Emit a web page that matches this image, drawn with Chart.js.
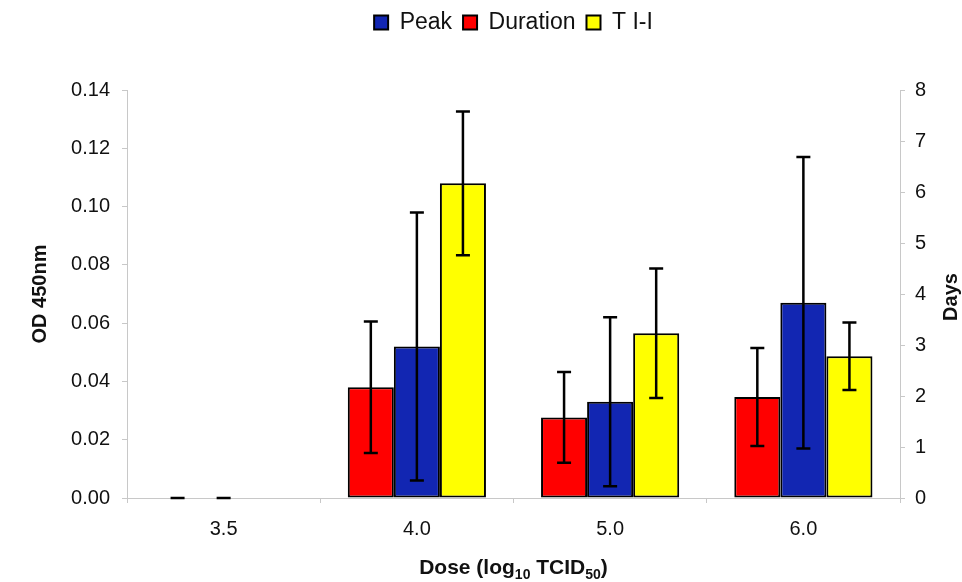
<!DOCTYPE html>
<html>
<head>
<meta charset="utf-8">
<title>Dose response</title>
<script src="https://cdn.jsdelivr.net/npm/chart.js@4.4.1/dist/chart.umd.min.js"></script>
<style>
  html, body { margin: 0; padding: 0; background: #fff; overflow: hidden; }
  canvas { display: block; }
</style>
</head>
<body>
<canvas id="doseChart" width="962" height="582"></canvas>
<script>
// Dose groups (log10 TCID50)
const doses = ['3.5', '4.0', '5.0', '6.0'];

// Peak OD 450nm (left axis) and its SD
const peakOD = [0, 0.052, 0.033, 0.067];
const peakSD = [0, 0.046, 0.029, 0.050];

// Duration in days (right axis) and its SD
const durationDays = [0, 2.17, 1.58, 1.98];
const durationSD = [0, 1.29, 0.89, 0.96];

// T I-I in days (right axis) and its SD
const tiiDays = [null, 6.17, 3.23, 2.78];
const tiiSD = [null, 1.41, 1.27, 0.66];

// Axis ticks
const odTicks = [0, 0.02, 0.04, 0.06, 0.08, 0.10, 0.12, 0.14];
const dayTicks = [0, 1, 2, 3, 4, 5, 6, 7, 8];

// Legend shows Peak first even though Duration bars come first
const legendOrder = ['Peak', 'Duration', 'T I-I'];

Chart.defaults.font.family = '"Liberation Sans", Arial, sans-serif';
Chart.defaults.color = '#111';

const axisGray = '#c8c8c8';

// push the plot down a bit under the legend
const legendGap = {
  id: 'legendGap',
  beforeUpdate(chart) {
    const legend = chart.legend;
    if (legend && !legend._gapAdded) {
      const fit = legend.fit;
      legend.fit = function () {
        fit.call(this);
        this.height += 46;
      };
      legend._gapAdded = true;
    }
  }
};

// mean +/- SD whiskers on every bar
const errorBars = {
  id: 'errorBars',
  afterDatasetsDraw(chart) {
    const ctx = chart.ctx;
    ctx.save();
    ctx.strokeStyle = '#000';
    ctx.lineWidth = 2.5;
    chart.data.datasets.forEach((ds, i) => {
      const meta = chart.getDatasetMeta(i);
      const yScale = chart.scales[meta.yAxisID];
      meta.data.forEach((bar, j) => {
        const v = ds.data[j];
        const e = ds.errors[j];
        if (v == null || e == null) return;
        const top = yScale.getPixelForValue(v + e);
        const bottom = yScale.getPixelForValue(v - e);
        const x = bar.x;
        ctx.beginPath();
        ctx.moveTo(x, top);
        ctx.lineTo(x, bottom);
        ctx.moveTo(x - 7, top);
        ctx.lineTo(x + 7, top);
        ctx.moveTo(x - 7, bottom);
        ctx.lineTo(x + 7, bottom);
        ctx.stroke();
      });
    });
    ctx.restore();
  }
};

// x axis title with subscripts, and the right axis title read bottom-up
const axisTitles = {
  id: 'axisTitles',
  afterDraw(chart) {
    const { ctx, chartArea } = chart;
    const family = Chart.defaults.font.family;
    const parts = [
      { text: 'Dose (log', size: 21, shift: 0 },
      { text: '10', size: 14, shift: 5 },
      { text: ' TCID', size: 21, shift: 0 },
      { text: '50', size: 14, shift: 5 },
      { text: ')', size: 21, shift: 0 }
    ];
    ctx.save();
    ctx.fillStyle = '#111';
    ctx.textBaseline = 'alphabetic';
    ctx.textAlign = 'left';
    let total = 0;
    parts.forEach(p => {
      ctx.font = 'bold ' + p.size + 'px ' + family;
      p.width = ctx.measureText(p.text).width;
      total += p.width;
    });
    let x = (chartArea.left + chartArea.right) / 2 - total / 2;
    parts.forEach(p => {
      ctx.font = 'bold ' + p.size + 'px ' + family;
      ctx.fillText(p.text, x, 574 + p.shift);
      x += p.width;
    });

    ctx.translate(957, 297);
    ctx.rotate(-Math.PI / 2);
    ctx.textAlign = 'center';
    ctx.font = 'bold 20px ' + family;
    ctx.fillText('Days', 0, 0);
    ctx.restore();
  }
};

new Chart(document.getElementById('doseChart'), {
  type: 'bar',
  data: {
    labels: doses,
    datasets: [
      { label: 'Duration', data: durationDays, errors: durationSD, yAxisID: 'yDays', backgroundColor: '#ff0000' },
      { label: 'Peak', data: peakOD, errors: peakSD, yAxisID: 'yOD', backgroundColor: '#1226b2' },
      { label: 'T I-I', data: tiiDays, errors: tiiSD, yAxisID: 'yDays', backgroundColor: '#ffff00' }
    ]
  },
  options: {
    responsive: false,
    animation: false,
    layout: { padding: { left: 24, right: 0, top: 0, bottom: 0 } },
    datasets: {
      bar: {
        borderColor: '#000',
        borderWidth: 2,
        borderSkipped: false,
        categoryPercentage: 0.715,
        barPercentage: 1
      }
    },
    scales: {
      x: {
        grid: { drawOnChartArea: false, tickLength: 5, color: axisGray, offset: true },
        border: { color: axisGray },
        ticks: { font: { size: 20 }, padding: 14 },
        afterFit: s => { s.height = 84; }
      },
      yOD: {
        position: 'left',
        min: 0,
        max: 0.14,
        afterBuildTicks: s => { s.ticks = odTicks.map(value => ({ value })); },
        grid: { drawOnChartArea: false, tickLength: 5, color: axisGray },
        border: { color: axisGray },
        ticks: { font: { size: 20 }, padding: 12, callback: v => v.toFixed(2) },
        title: { display: true, text: 'OD 450nm', font: { size: 20, weight: 'bold' } },
        afterFit: s => { s.width = 103; }
      },
      yDays: {
        position: 'right',
        min: 0,
        max: 8,
        afterBuildTicks: s => { s.ticks = dayTicks.map(value => ({ value })); },
        grid: { drawOnChartArea: false, tickLength: 5, color: axisGray },
        border: { color: axisGray },
        ticks: { font: { size: 20 }, padding: 10 },
        afterFit: s => { s.width = 62; }
      }
    },
    plugins: {
      legend: {
        position: 'top',
        fullSize: false,
        labels: {
          font: { size: 23 },
          boxWidth: 14,
          boxHeight: 14,
          padding: 11,
          sort: (a, b) => legendOrder.indexOf(a.text) - legendOrder.indexOf(b.text)
        }
      },
      tooltip: { enabled: false }
    }
  },
  plugins: [legendGap, errorBars, axisTitles]
});
</script>
</body>
</html>
